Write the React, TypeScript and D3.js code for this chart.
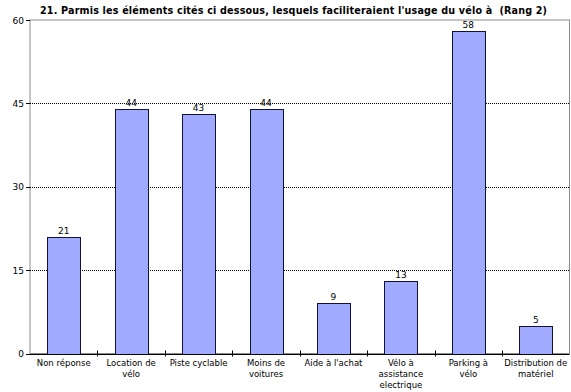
import React from "react";
import * as d3 from "d3";

const categories: string[][] = [
  ["Non réponse"],
  ["Location de", "vélo"],
  ["Piste cyclable"],
  ["Moins de", "voitures"],
  ["Aide à l'achat"],
  ["Vélo à", "assistance", "electrique"],
  ["Parking à", "vélo"],
  ["Distribution de", "matériel"],
];
const values: number[] = [21, 44, 43, 44, 9, 13, 58, 5];
const yTicks: number[] = [0, 15, 30, 45, 60];
const title = "21. Parmis les éléments cités ci dessous, lesquels faciliteraient l'usage du vélo à  (Rang 2)";

const W = 571;
const H = 392;
const left = 30;
const right = 569.5;
const top = 20;
const bottom = 353.5;
const font = "Verdana, 'DejaVu Sans', sans-serif";

export default function App() {
  const x = d3
    .scaleBand<number>()
    .domain(d3.range(categories.length))
    .range([left, right])
    .paddingInner(0)
    .paddingOuter(0);
  const y = d3.scaleLinear().domain([0, 60]).range([bottom, top]);
  const bw = x.bandwidth() * 0.49;

  return (
    <svg
      width={W}
      height={H}
      style={{ position: "absolute", left: 0, top: 0, background: "#fff" }}
      fontFamily={font}
    >
      <text
        x={40}
        y={13.5}
        fontSize={9.6}
        fontWeight="bold"
        fill="#000"
        textLength={507}
        lengthAdjust="spacing"
        style={{ whiteSpace: "pre" }}
      >
        {title}
      </text>
      {/* frame */}
      <rect
        x={left}
        y={top}
        width={right - left}
        height={bottom - top}
        fill="none"
        stroke="#8c8c8c"
        strokeWidth={1}
      />
      {/* dotted gridlines */}
      {yTicks
        .filter((t) => t > 0 && t < 60)
        .map((t) => (
          <line
            key={t}
            x1={left}
            x2={right}
            y1={Math.round(y(t)) + 0.5}
            y2={Math.round(y(t)) + 0.5}
            stroke="#000"
            strokeWidth={1}
            strokeDasharray="1,1"
          />
        ))}
      {/* y ticks and labels */}
      {yTicks.map((t) => (
        <g key={t}>
          <line
            x1={left - 4}
            x2={left}
            y1={Math.round(y(t)) + 0.5}
            y2={Math.round(y(t)) + 0.5}
            stroke="#000"
          />
          <text
            x={left - 6}
            y={y(t) + 3.5}
            textAnchor="end"
            fontSize={9}
            fill="#000"
          >
            {t}
          </text>
        </g>
      ))}
      {/* bars */}
      {values.map((v, i) => {
        const cx = x(i)! + x.bandwidth() / 2;
        return (
          <g key={i}>
            <rect
              x={Math.round(cx - bw / 2) + 0.5}
              y={Math.round(y(v)) + 0.5}
              width={Math.round(bw)}
              height={Math.round(bottom) - Math.round(y(v))}
              fill="#a0aaff"
              stroke="#111133"
              strokeWidth={1}
            />
            <text
              x={cx}
              y={y(v) - 3}
              textAnchor="middle"
              fontSize={9}
              fill="#000"
            >
              {v}
            </text>
          </g>
        );
      })}
      {/* x axis */}
      <line
        x1={left - 4}
        x2={right}
        y1={Math.round(bottom) + 0.5}
        y2={Math.round(bottom) + 0.5}
        stroke="#000"
      />
      {d3.range(1, categories.length).map((i) => (
        <line
          key={i}
          x1={Math.round(x(i)!) + 0.5}
          x2={Math.round(x(i)!) + 0.5}
          y1={bottom - 3}
          y2={bottom + 3}
          stroke="#000"
        />
      ))}
      {categories.map((lines, i) => {
        const cx = x(i)! + x.bandwidth() / 2;
        return (
          <text key={i} textAnchor="middle" fontSize={8.5} fill="#000">
            {lines.map((l, j) => (
              <tspan key={j} x={cx} y={bottom + 12 + j * 11}>
                {l}
              </tspan>
            ))}
          </text>
        );
      })}
    </svg>
  );
}
